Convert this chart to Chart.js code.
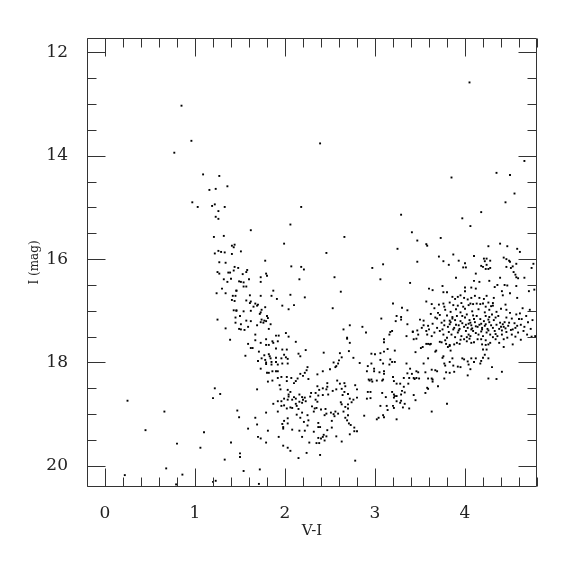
<!DOCTYPE html>
<html>
<head>
<meta charset="utf-8">
<script src="https://cdn.jsdelivr.net/npm/chart.js@4.4.1/dist/chart.umd.min.js"></script>
<style>
  html, body { margin: 0; padding: 0; background: #fff; }
</style>
</head>
<body>
<canvas id="cmd" width="575" height="575"></canvas>
<script>
// colour-magnitude diagram, each star is [V-I, I]
var brightStars = [
  [0.85,13.03],[0.96,13.71],[0.77,13.94],[1.09,14.36],[1.27,14.39],[1.36,14.59],
  [2.39,13.76],[4.05,12.58],[3.85,14.42],[4.35,14.33],[4.50,14.37],[4.66,14.10],
  [2.18,14.99],[2.06,15.33],[4.55,14.73],[4.45,14.90],[3.29,15.14],[4.18,15.09],
  [3.97,15.21],[4.06,15.36]
];

var blueEdge = [
  [1.16,14.66],[1.23,14.64],[0.97,14.90],[1.03,14.99],[1.19,14.97],[1.22,14.94],
  [1.33,14.99],[1.26,15.07],[1.23,15.18],[1.26,15.22],[1.21,15.57],[1.32,15.55],
  [1.41,15.74],[1.44,15.72],[1.43,15.77],[1.22,15.89],[1.26,15.84],[1.29,15.86],
  [1.33,15.87],[1.41,15.90],[1.27,16.06],[1.34,16.07],[1.44,16.15],[1.43,16.22],
  [1.25,16.25],[1.27,16.28],[1.37,16.26],[1.39,16.26],[1.32,16.39],[1.40,16.38],
  [1.36,16.44],[1.30,16.57],[1.46,16.61],[1.24,16.66],[1.34,16.66],[1.42,16.71],
  [1.45,16.71],[1.41,16.79],[1.44,16.81],[1.43,16.99],[1.46,17.00],[1.25,17.17],
  [1.45,17.13],[1.45,17.23],[1.34,17.34],[1.39,17.56],[1.22,18.50],[1.28,18.61],
  [1.20,18.69],[0.25,18.74],[0.66,18.95],[0.45,19.31],[1.10,19.35],[0.80,19.57],
  [1.06,19.65],[1.40,19.55],[1.33,19.88],[0.68,20.05],[0.22,20.18],[0.86,20.17],
  [0.79,20.36],[1.20,20.31],[1.23,20.29]
];

var middleStars = [
  [1.62,15.44],[2.66,15.57],[1.99,15.70],[2.46,15.88],[1.51,15.85],[1.78,16.03],
  [2.97,16.17],[3.09,16.10],[2.07,16.14],[2.18,16.15],[2.21,16.20],[1.48,16.17],
  [1.58,16.21],[1.57,16.25],[1.53,16.29],[1.79,16.28],[1.80,16.32],[1.73,16.35],
  [1.60,16.39],[2.16,16.39],[2.55,16.35],[3.06,16.39],[1.49,16.43],[1.51,16.44],
  [1.54,16.45],[1.73,16.44],[1.54,16.53],[1.57,16.53],[1.46,16.61],[1.87,16.61],
  [2.62,16.63],[1.61,16.70],[1.73,16.71],[1.85,16.71],[2.06,16.69],[1.91,16.77],
  [2.22,16.74],[1.57,16.80],[1.62,16.82],[1.61,16.85],[1.67,16.86],[1.70,16.88],
  [1.69,16.90],[1.65,16.92],[1.78,16.93],[1.97,16.90],[2.10,16.89],[2.04,16.97],
  [2.53,16.95],[1.46,16.99],[1.54,17.01],[1.62,17.00],[1.74,16.98],[1.73,17.03],
  [1.72,17.06],[1.50,17.10],[1.80,17.10],[1.81,17.14],[1.57,17.19],[1.62,17.20],
  [1.74,17.17],[1.77,17.19],[1.79,17.20],[1.73,17.22],[1.76,17.23],[1.84,17.26],
  [1.51,17.26],[1.69,17.28],[1.59,17.31],[1.49,17.35],[1.51,17.36],[1.55,17.37],
  [1.82,17.35],[2.72,17.28],[2.86,17.31],[3.07,17.15],[2.65,17.36],[2.90,17.42],
  [1.67,17.46],[1.90,17.48],[1.93,17.48],[2.01,17.43],[2.04,17.50],[2.69,17.52]
];

var lowerBowl = [
  [1.59,17.64],[1.62,17.72],[1.64,17.72],[1.67,17.57],[1.73,17.62],[1.79,17.55],
  [1.82,17.66],[1.79,17.66],[1.86,17.59],[1.87,17.62],[1.92,17.59],[1.90,17.73],
  [1.97,17.75],[2.02,17.75],[2.12,17.60],[1.56,17.87],[1.71,17.79],[1.77,17.86],
  [1.82,17.84],[1.83,17.88],[1.74,17.92],[1.70,17.97],[1.78,17.95],[1.79,18.00],
  [1.79,18.03],[1.84,17.92],[1.85,17.99],[1.85,18.04],[1.90,17.91],[1.90,17.99],
  [1.92,18.04],[1.96,17.92],[1.97,18.02],[1.99,17.85],[2.01,17.90],[2.03,17.93],
  [2.03,18.02],[2.15,17.83],[2.17,17.88],[2.23,17.76],[2.43,17.81],[2.61,17.82],
  [2.63,17.90],[2.71,17.78],[2.76,17.91],[2.83,18.01],[2.69,17.54],[2.72,17.62],
  [2.54,18.00],[2.59,18.02],[2.57,18.07],[2.60,17.96],[2.56,18.09],[2.50,18.13],
  [2.42,18.17],[2.36,18.23],[2.25,18.09],[2.24,18.15],[2.22,18.20],[2.20,18.26],
  [2.17,18.22],[2.14,18.31],[2.12,18.36],[2.10,18.40],[2.26,18.32],[1.73,18.12],
  [1.80,18.20],[1.82,18.20],[1.92,18.17],[1.90,18.17],[1.86,18.17],[1.92,18.30],
  [1.86,18.35],[1.81,18.37],[1.94,18.44],[1.95,18.52],[1.96,18.28],[2.02,18.28],
  [2.07,18.30],[2.02,18.36],[1.69,18.52],[1.87,18.80],[1.92,18.75],[1.96,18.75],
  [1.99,18.70],[2.03,18.72],[2.04,18.66],[2.08,18.72],[2.10,18.67],[2.12,18.70],
  [2.03,18.53],[2.06,18.57],[2.04,18.62],[2.16,18.62],[2.19,18.67],[2.20,18.72],
  [2.22,18.68],[2.16,18.76],[2.19,18.78],[2.23,18.75],[2.28,18.66],[2.29,18.59],
  [2.34,18.72],[2.36,18.76],[2.34,18.59],[2.36,18.46],[2.38,18.53],[2.42,18.50],
  [2.46,18.52],[2.47,18.40],[2.47,18.47],[2.53,18.55],[2.57,18.52],[2.58,18.35],
  [2.61,18.41],[2.63,18.51],[2.66,18.57],[2.66,18.40],[2.67,18.46],[2.70,18.61],
  [2.72,18.70],[2.74,18.77],[2.76,18.72],[2.80,18.68],[2.70,18.81],[2.70,18.89],
  [2.78,18.44],[2.80,18.52],[2.64,18.63],[2.48,18.62],[2.42,18.63],[2.37,18.64],
  [2.62,18.77],[2.63,18.81],[2.67,18.86],[2.65,18.95],[2.56,18.95],[2.55,19.04],
  [2.59,18.99],[2.52,19.13],[2.70,19.02],[2.67,19.07],[2.69,19.12],[2.71,19.18],
  [2.73,19.21],[2.77,19.26],[2.77,19.33],[2.80,19.33],[2.72,19.39],[2.78,19.90],
  [2.39,19.79],[2.43,19.40],[2.46,19.43],[2.42,19.44],[2.37,19.46],[2.40,19.47],
  [2.44,19.51],[2.38,19.56],[2.35,19.56],[2.37,19.17],[2.37,19.25],[2.39,19.25],
  [2.52,19.26],[2.47,19.31],[2.57,19.43],[2.63,19.53],[2.25,19.02],[2.26,19.12],
  [2.21,19.15],[2.17,19.07],[2.19,18.97],[2.13,19.01],[2.15,18.90],[2.13,18.84],
  [2.12,18.80],[2.08,18.88],[2.06,18.87],[2.02,18.89],[2.32,18.95],[2.33,18.89],
  [2.30,18.85],[2.35,18.88],[2.40,18.91],[2.44,19.02],[2.46,18.99],[2.45,18.90],
  [2.51,18.97],[2.54,19.00],[2.03,19.08],[1.99,19.13],[1.97,19.19],[1.98,19.25],
  [1.98,19.28],[2.03,19.18],[2.16,19.32],[2.22,19.32],[2.19,19.44],[2.25,19.22],
  [2.27,19.55],[2.24,19.75],[2.32,19.34],[2.08,19.30],[1.93,19.44],[1.98,19.61],
  [2.03,19.65],[2.06,19.71],[2.15,19.85],[1.79,18.97],[1.81,19.32],[1.79,19.55],
  [1.67,19.07],[1.69,19.20],[1.59,19.28],[1.70,19.44],[1.73,19.47],[1.49,19.06],
  [1.47,18.93],[1.50,19.76],[1.50,19.83],[1.54,20.10],[1.72,20.07],[1.71,20.35],
  [1.92,18.95],[1.96,18.84],[1.99,18.83]
];

var redRise = [
  [2.88,19.03],[2.91,18.17],[2.92,18.07],[2.96,18.02],[2.99,18.17],[2.99,18.12],
  [2.96,17.83],[3.00,17.84],[2.93,18.33],[2.94,18.35],[2.96,18.33],[2.97,18.37],
  [2.92,18.57],[2.95,18.57],[2.91,18.70],[2.95,18.69],[3.02,18.35],[3.05,18.19],
  [3.06,17.95],[3.08,18.35],[3.09,18.33],[3.10,18.22],[3.10,18.17],[3.08,18.59],
  [3.12,18.67],[3.06,18.84],[3.09,19.02],[3.10,19.06],[3.04,19.07],[3.02,19.10],
  [3.10,17.55],[3.10,17.61],[3.06,17.82],[3.10,17.79],[3.09,18.02],
  [3.14,17.74],[3.22,17.77],[3.17,17.94],[3.19,17.99],[3.22,17.99],[3.16,18.04],
  [3.20,18.28],[3.21,18.36],[3.19,18.57],[3.21,18.62],[3.21,18.68],[3.22,18.65],
  [3.24,18.65],[3.24,18.75],[3.20,18.84],[3.21,18.88],[3.14,18.92],[3.13,18.84],
  [3.24,19.10],[3.28,18.78],[3.29,18.74],[3.31,18.87],[3.33,18.80],[3.38,18.89],
  [3.30,18.55],[3.29,18.62],[3.33,18.58],[3.32,18.47],[3.28,18.41],[3.24,18.41],
  [3.35,18.02],[3.36,18.21],[3.39,18.12],[3.41,18.22],[3.32,18.30],[3.38,18.30],
  [3.37,18.41],[3.43,18.63],[3.45,18.73],[3.43,18.30],[3.44,18.32],[3.46,18.30],
  [3.46,18.17],[3.48,18.19],[3.51,17.72],[3.45,17.80],[3.49,18.31],[3.54,18.02],
  [3.56,18.19],[3.59,18.31],[3.63,18.31],[3.64,18.37],[3.64,18.33],[3.59,18.51],
  [3.56,18.59],[3.58,18.49],[3.63,18.95],[3.70,18.46],[3.80,18.80],[3.77,18.31],
  [3.67,18.15],[3.63,18.14],[3.68,17.77],[3.67,17.79],[3.59,17.92],[3.59,17.64],
  [3.61,17.65]
];

var redClump = [
  [3.41,15.48],[3.47,15.64],[3.73,15.59],[3.57,15.71],[3.58,15.74],[3.25,15.80],
  [4.39,15.70],[4.47,15.75],[4.58,15.80],[4.61,15.86],[4.26,15.75],[3.71,15.95],
  [3.87,15.91],[3.76,16.04],[3.82,16.11],[3.93,16.03],[4.00,16.08],[3.98,16.16],
  [4.01,16.16],[4.10,15.94],[3.47,16.05],[4.21,15.99],[4.24,15.99],[4.22,16.04],
  [4.28,16.03],[4.24,16.11],[4.18,16.13],[4.20,16.15],[4.23,16.19],[4.26,16.19],
  [4.28,16.17],[4.43,15.97],[4.46,16.00],[4.49,16.03],[4.46,16.15],[4.51,16.17],
  [4.53,16.14],[4.57,16.09],[4.50,16.05],[4.74,16.17],[4.76,16.09],[4.54,16.25],
  [4.57,16.35],[4.59,16.37],[4.56,16.30],[4.66,16.36],[3.90,16.36],[4.12,16.28],
  [4.10,16.42],[4.16,16.44],[4.27,16.42],[4.07,16.55],[4.12,16.57],[3.39,16.46],
  [4.39,16.36],[4.36,16.50],[4.33,16.54],[4.44,16.50],[4.47,16.51],[4.57,16.52],
  [4.41,16.62],[4.50,16.66],[4.42,16.70],[4.71,16.62],[4.77,16.59],[4.58,16.75],
  [3.60,16.57],[3.64,16.60],[3.75,16.52],[3.76,16.64],[3.80,16.64],[4.00,16.55],
  [4.00,16.62],[3.95,16.70],[3.92,16.73],[3.86,16.73],[3.89,16.77],[4.07,16.75],
  [4.11,16.71],[4.03,16.78],[3.99,16.75],[4.16,16.75],[4.21,16.77],[4.24,16.71],
  [4.32,16.75],[3.57,16.82],[3.63,16.87],[3.20,16.86],[3.30,16.94],[3.36,16.99],
  [3.76,16.86],[3.77,16.92],[3.83,16.84],[3.87,16.89],[3.92,16.90],[3.96,16.85],
  [3.98,16.92],[4.04,16.89],[4.06,16.86],[4.09,16.87],[4.13,16.86],[4.17,16.87],
  [4.20,16.86],[4.26,16.84],[4.31,16.85],[4.23,16.92],[4.29,16.91],[4.31,16.90],
  [4.45,16.88],[4.46,16.98],[4.50,17.04],[4.57,17.07],[4.60,17.16],[4.63,17.16],
  [3.24,17.10],[3.29,17.12],[3.29,17.17],[3.23,17.20],[3.17,17.41],[3.16,17.46],
  [3.36,17.26],[3.42,17.40],[3.47,17.38],[3.50,17.17],[3.54,17.19],[3.54,17.28],
  [3.59,17.29],[3.64,17.25],[3.57,17.39],
  [3.70,17.04],[3.69,17.15],[3.72,17.08],[3.74,17.23],[3.77,17.19],[3.77,17.28],
  [3.80,17.09],[3.83,17.19],[3.83,17.26],[3.86,17.12],[3.89,17.18],[3.91,17.10],
  [3.93,17.28],[3.95,17.20],[3.97,17.10],[4.00,17.13],[4.02,17.07],[4.04,17.25],
  [4.06,17.23],[4.07,17.28],[4.10,17.16],[4.12,17.30],[4.13,17.10],[4.17,17.16],
  [4.18,17.25],[4.21,17.20],[4.23,17.26],[4.23,17.10],[4.26,17.17],[4.29,17.28],
  [4.30,17.07],[4.32,17.18],[4.34,17.13],[4.37,17.10],[4.39,17.23],[4.40,17.31],
  [4.42,17.26],[4.44,17.22],[4.49,17.23],[4.52,17.15],[4.53,17.36],[4.56,17.33],
  [3.69,17.33],[3.72,17.39],[3.76,17.46],[3.82,17.41],[3.85,17.46],[3.87,17.36],
  [3.92,17.42],[3.96,17.49],[4.01,17.39],[4.04,17.46],[4.06,17.49],[4.09,17.39],
  [4.15,17.46],[4.19,17.36],[4.20,17.49],[4.24,17.42],[4.28,17.46],[4.33,17.39],
  [4.36,17.49],[4.41,17.46],[4.46,17.41],[4.52,17.46],[4.59,17.42],[4.65,17.39],
  [4.69,17.46],[4.74,17.50],[4.78,17.49],[3.19,17.39],[3.35,17.49],[3.42,17.41],
  [3.48,17.46],[3.52,17.33],[3.58,17.46],[3.63,17.49],
  [3.43,17.55],[3.46,17.54],[3.53,17.70],[3.57,17.64],[3.62,17.64],[3.72,17.60],
  [3.74,17.61],[3.78,17.57],[3.79,17.64],[3.83,17.68],[3.88,17.65],[3.91,17.62],
  [3.94,17.64],[3.95,17.56],[3.99,17.55],[4.02,17.59],[4.05,17.54],[4.07,17.62],
  [4.10,17.61],[4.14,17.55],[4.18,17.55],[4.19,17.65],[4.23,17.57],[4.26,17.65],
  [4.34,17.55],[4.38,17.62],[4.43,17.55],[4.43,17.70],[4.53,17.65],
  [3.69,18.17],[3.76,17.88],[3.75,17.91],[3.78,18.06],[3.77,18.02],[3.79,18.19],
  [3.83,18.20],[3.83,17.99],[3.87,18.06],[3.86,17.92],[3.84,17.77],[3.81,17.70],
  [3.83,17.66],[3.88,18.18],[3.92,18.08],[3.95,18.09],[3.97,17.92],[3.99,17.94],
  [4.03,17.98],[4.03,18.25],[4.06,18.13],[4.04,18.04],[4.07,17.92],[4.10,17.99],
  [4.12,17.92],[4.17,18.02],[4.18,17.97],[4.20,17.91],[4.22,17.85],[4.26,18.31],
  [4.30,18.09],[4.35,18.32],[4.41,18.18],[4.26,17.92],[4.20,17.75],[4.24,17.75],
  [4.23,17.66],[4.28,17.62]
];

var clumpCore = [
  [3.81,17.31],[3.84,17.22],[3.88,17.33],[3.90,17.27],[3.94,17.35],[3.97,17.24],
  [3.99,17.31],[4.01,17.27],[4.03,17.33],[4.05,17.18],[4.08,17.34],[4.11,17.22],
  [4.14,17.31],[4.16,17.27],[4.19,17.33],[4.22,17.29],[4.25,17.35],[4.27,17.22],
  [4.31,17.33],[4.35,17.27],[4.38,17.35],[4.41,17.38],[4.43,17.31],[4.45,17.34],
  [4.48,17.29],[4.51,17.37],[4.55,17.24],[4.58,17.29],[4.62,17.27],[4.66,17.31],
  [4.70,17.22],[4.73,17.35],[4.61,17.05],[4.64,16.95],[4.68,17.10],[4.72,16.98],
  [4.75,17.18],[3.78,16.98],[3.84,17.02],[3.90,16.97],[3.95,17.03],[4.00,16.96],
  [4.08,17.01],[4.15,16.97],[4.22,17.03],[4.27,16.98],[4.35,17.02],[4.40,16.96],
  [3.66,16.95],[3.71,16.88],[3.62,17.06],[3.67,17.13],[3.60,17.36],[3.66,17.42],
  [3.75,17.36],[3.80,17.52],[3.89,17.51],[4.02,17.51],[4.12,17.43],[4.18,17.40],
  [4.31,17.51],[4.47,17.52],[4.56,17.50],[4.62,17.56],[3.93,17.38],[4.07,17.36],
  [4.26,17.38],[4.34,17.45],[3.86,17.15],[4.09,17.09],[4.27,17.12],[4.46,17.13]
];

var xMajor = [0, 1, 2, 3, 4];
var yMajor = [12, 14, 16, 18, 20];
var xRange = [-0.2, 4.8];
var yRange = [11.72, 20.41];

var stars = [].concat(brightStars, blueEdge, middleStars, lowerBowl, redRise, redClump, clumpCore)
  .map(function (p) { return { x: p[0], y: p[1] }; });

var serif = '"DejaVu Serif", "Liberation Serif", serif';

// inward ticks on all four sides plus the box
var frameTicks = {
  id: 'frameTicks',
  afterDatasetsDraw: function (chart) {
    var c = chart.ctx, a = chart.chartArea;
    var sx = chart.scales.x, sy = chart.scales.y;
    var L = Math.round(a.left) + 0.5, R = Math.round(a.right) - 0.5;
    var T = Math.round(a.top) + 0.5, B = Math.round(a.bottom) - 0.5;
    c.save();
    c.strokeStyle = '#333';
    c.lineWidth = 1;
    c.beginPath();
    c.rect(L, T, R - L, B - T);
    for (var i = 0; i <= 25; i++) {
      var v = Math.round((xRange[0] + i * 0.2) * 10) / 10;
      if (v > xRange[1]) break;
      var len = xMajor.indexOf(v) >= 0 ? 18 : 9;
      var px = Math.round(sx.getPixelForValue(v)) + 0.5;
      c.moveTo(px, B); c.lineTo(px, B - len);
      c.moveTo(px, T); c.lineTo(px, T + len);
    }
    for (var j = 0; j <= 16; j++) {
      var w = 12 + j * 0.5;
      var lenY = yMajor.indexOf(w) >= 0 ? 18 : 9;
      var py = Math.round(sy.getPixelForValue(w)) + 0.5;
      c.moveTo(L, py); c.lineTo(L + lenY, py);
      c.moveTo(R, py); c.lineTo(R - lenY, py);
    }
    c.stroke();
    c.restore();
  }
};

new Chart(document.getElementById('cmd').getContext('2d'), {
  type: 'scatter',
  data: {
    datasets: [{
      data: stars,
      pointStyle: 'rect',
      pointRadius: 1.35,
      pointBorderWidth: 0,
      backgroundColor: '#000',
      borderColor: '#000'
    }]
  },
  options: {
    responsive: false,
    animation: false,
    devicePixelRatio: 1,
    layout: { padding: { top: 38, right: 38, left: 0, bottom: 0 } },
    plugins: { legend: { display: false }, tooltip: { enabled: false } },
    scales: {
      x: {
        type: 'linear',
        min: xRange[0],
        max: xRange[1],
        afterBuildTicks: function (s) { s.ticks = xMajor.map(function (v) { return { value: v }; }); },
        afterFit: function (s) { s.height = 88; },
        grid: { display: false, drawTicks: false },
        border: { display: false },
        ticks: { color: '#222', font: { family: serif, size: 17 }, padding: 16, maxRotation: 0 },
        title: { display: true, text: 'V-I', color: '#222', font: { family: serif, size: 15 }, padding: { top: 35, bottom: 35 } }
      },
      y: {
        type: 'linear',
        reverse: true,
        min: yRange[0],
        max: yRange[1],
        afterBuildTicks: function (s) { s.ticks = yMajor.map(function (v) { return { value: v }; }); },
        afterFit: function (s) { s.width = 87; },
        grid: { display: false, drawTicks: false },
        border: { display: false },
        ticks: { color: '#222', font: { family: serif, size: 17 }, padding: 19 },
        title: { display: true, text: 'I (mag)', color: '#222', font: { family: serif, size: 12 }, padding: { top: 28, bottom: 28 } }
      }
    }
  },
  plugins: [frameTicks]
});
</script>
</body>
</html>
